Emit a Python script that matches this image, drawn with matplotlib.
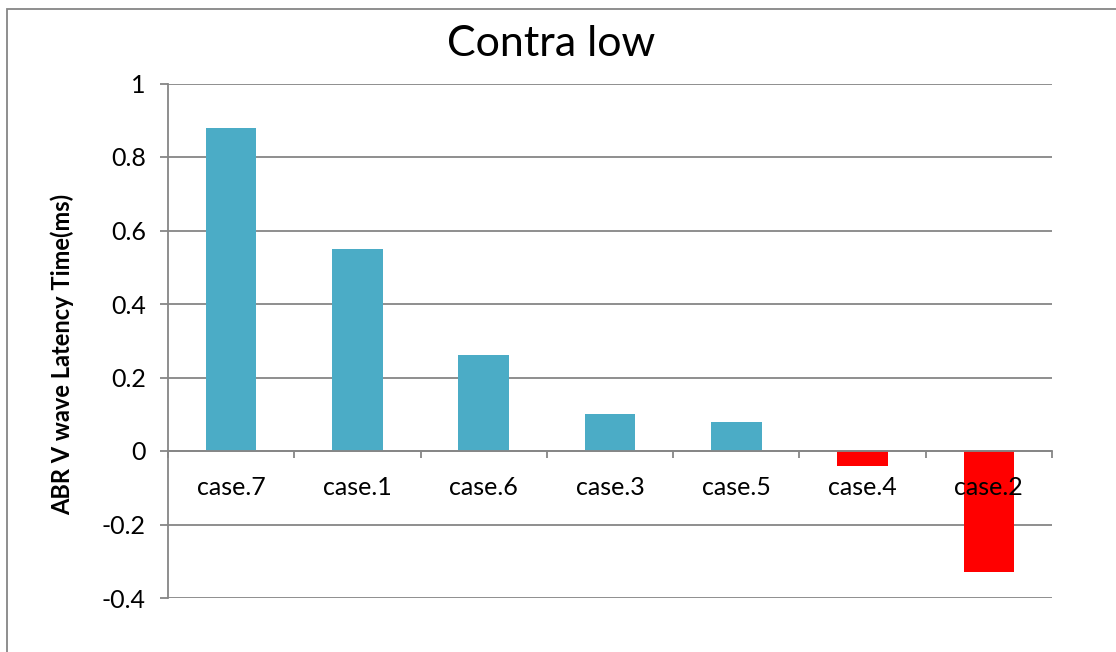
import matplotlib
matplotlib.use("Agg")
import matplotlib.pyplot as plt
from matplotlib.patches import Rectangle
import numpy as np

# Latency change per case, sorted from largest to smallest
cases = ["case.7", "case.1", "case.6", "case.3", "case.5", "case.4", "case.2"]
latency = [0.88, 0.55, 0.26, 0.10, 0.08, -0.04, -0.33]
yticks = [-0.4, -0.2, 0, 0.2, 0.4, 0.6, 0.8, 1]
ytick_labels = ["-0.4", "-0.2", "0", "0.2", "0.4", "0.6", "0.8", "1"]
title = "Contra low"
ylabel = "ABR V wave Latency Time(ms)"

POS_COLOR = "#4BACC6"
NEG_COLOR = "#FF0000"
GRID = "#868686"
FONT = ["Lato", "DejaVu Sans"]

plt.rcParams["font.family"] = FONT

W, H = 1116, 652
fig = plt.figure(figsize=(W / 100, H / 100), dpi=100)
fig.patch.set_facecolor("white")

# outer chart frame
fig.add_artist(Rectangle((7 / W, -0.1), 1.2, 1 - 9 / H + 0.1,
                         transform=fig.transFigure, fill=False,
                         edgecolor=GRID, linewidth=1.3))

left, right = 168 / W, 1052 / W
bottom, top = 1 - 598 / H, 1 - 83.5 / H
ax = fig.add_axes([left, bottom, right - left, top - bottom])
ax.set_axisbelow(True)

x = np.arange(len(cases))
colors = [POS_COLOR if v >= 0 else NEG_COLOR for v in latency]
ax.bar(x, latency, width=0.4, color=colors, zorder=2)

ax.set_xlim(-0.5, len(cases) - 0.5)
ax.set_ylim(-0.4, 1.0)

# y axis: ticks, labels and horizontal gridlines
ax.set_yticks(yticks)
ax.set_yticklabels(ytick_labels)
ax.yaxis.grid(True, color=GRID, linewidth=1.3)
ax.tick_params(axis="y", direction="out", length=6, width=1.3, color=GRID,
               labelsize=18, pad=10, labelcolor="black")

# x axis sits at zero with tick marks between categories
ax.spines["bottom"].set_position(("data", 0))
ax.spines["bottom"].set_color(GRID)
ax.spines["bottom"].set_linewidth(1.3)
ax.spines["bottom"].set_zorder(3)
ax.spines["left"].set_color(GRID)
ax.spines["left"].set_linewidth(1.3)
ax.spines["top"].set_visible(False)
ax.spines["right"].set_visible(False)
ax.set_xticks(np.arange(len(cases) + 1) - 0.5)
ax.set_xticklabels([])
ax.tick_params(axis="x", which="major", direction="out", length=5, width=1.3,
               color=GRID)

# category names sit just under the zero line, drawn above the bars
label_offset = -0.0985
for xi, name in zip(x, cases):
    ax.text(xi, label_offset, name, ha="center", va="center", fontsize=18,
            zorder=5, clip_on=False)

fig.text(551 / W, 1 - 44 / H, title, ha="center", va="center", fontsize=31)
fig.text(62 / W, 1 - 354 / H, ylabel, ha="center", va="center",
         rotation=90, fontsize=17, fontweight="bold")

fig.savefig("out.png", dpi=100)
